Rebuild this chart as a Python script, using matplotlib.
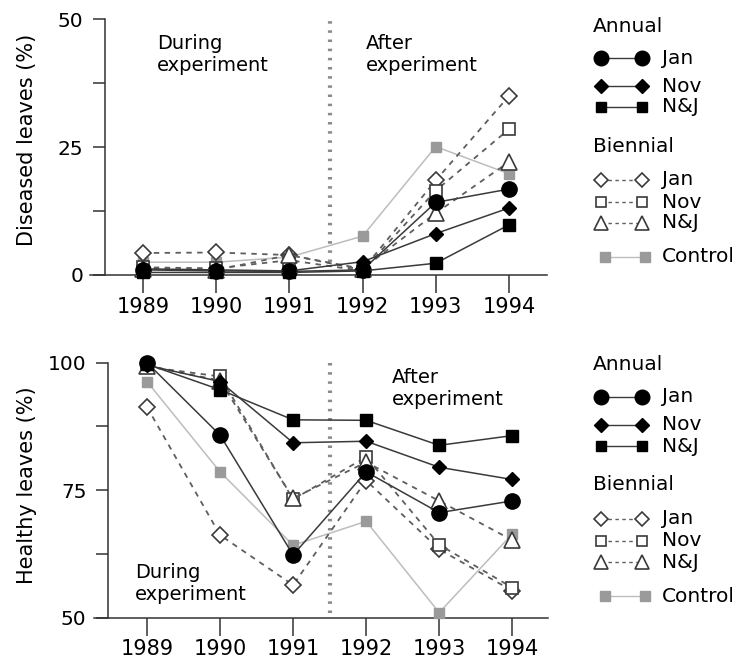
import matplotlib
matplotlib.use("Agg")
import matplotlib.pyplot as plt
from matplotlib.lines import Line2D

plt.rcParams['font.family'] = ['DejaVu Sans']

years = [1989, 1990, 1991, 1992, 1993, 1994]

# Diseased leaves (%)
dis_ann_jan = [1.0, 0.8, 0.7, 1.0, 14.2, 16.8]
dis_ann_nov = [1.2, 1.0, 0.8, 2.6, 8.1, 13.1]
dis_ann_nj = [0.5, 0.5, 0.5, 0.8, 2.3, 9.8]
dis_bi_jan = [4.3, 4.4, 3.9, 1.0, 18.5, 35.0]
dis_bi_nov = [1.5, 1.3, 2.9, 0.8, 16.5, 28.5]
dis_bi_nj = [1.2, 1.0, 3.9, 1.2, 12.1, 22.1]
dis_control = [2.5, 2.5, 3.5, 7.6, 25.1, 19.8]

# Healthy leaves (%)
hea_ann_jan = [100.0, 85.8, 62.3, 78.6, 70.6, 72.9]
hea_ann_nov = [99.5, 96.3, 84.3, 84.6, 79.5, 77.1]
hea_ann_nj = [99.7, 94.7, 88.8, 88.7, 83.8, 85.7]
hea_bi_jan = [91.3, 66.2, 56.4, 76.9, 63.4, 55.3]
hea_bi_nov = [99.2, 97.3, 73.2, 81.5, 64.3, 55.9]
hea_bi_nj = [99.4, 96.5, 73.4, 80.5, 72.9, 65.2]
hea_control = [96.3, 78.6, 64.2, 68.9, 51.0, 66.4]

W, H = 738, 662
fig = plt.figure(figsize=(W / 100, H / 100), dpi=100)


def px_axes(left, right, top, bottom):
    return fig.add_axes([left / W, 1 - bottom / H, (right - left) / W, (bottom - top) / H])


AX_COL = '#333333'
ANN_LINE = '#3a3a3a'
BI_LINE = '#5e5e5e'
BI_EDGE = '#3a3a3a'
CTRL_M = '#9a9a9a'
CTRL_L = '#bdbdbd'
DASH = (0, (3, 3))

styles = {
    'control': dict(marker='s', ms=7, mfc=CTRL_M, mec=CTRL_M, color=CTRL_L, lw=1.1, ls='-'),
    'bi_jan': dict(marker='D', ms=8.5, mfc='white', mec=BI_EDGE, mew=1.2, color=BI_LINE, lw=1.3, ls=DASH),
    'bi_nov': dict(marker='s', ms=8.5, mfc='white', mec=BI_EDGE, mew=1.2, color=BI_LINE, lw=1.3, ls=DASH),
    'bi_nj': dict(marker='^', ms=11.5, mfc='white', mec=BI_EDGE, mew=1.2, color=BI_LINE, lw=1.3, ls=DASH),
    'ann_jan': dict(marker='o', ms=11, mfc='black', mec='black', color=ANN_LINE, lw=1.1, ls='-'),
    'ann_nov': dict(marker='D', ms=7.5, mfc='black', mec='black', color=ANN_LINE, lw=1.1, ls='-'),
    'ann_nj': dict(marker='s', ms=8.5, mfc='black', mec='black', color=ANN_LINE, lw=1.1, ls='-'),
}


def style_axes(ax, xlim, spine_x, ylim, major, minor, xpad):
    ax.set_xlim(*xlim)
    ax.set_ylim(*ylim)
    for s in ['top', 'right']:
        ax.spines[s].set_visible(False)
    ax.spines['left'].set_position(('data', spine_x))
    for s in ['left', 'bottom']:
        ax.spines[s].set_color(AX_COL)
        ax.spines[s].set_linewidth(1.1)
    ax.set_xticks(years)
    ax.set_xticklabels([str(y) for y in years])
    ax.set_yticks(major)
    ax.set_yticklabels([str(v) for v in major])
    ax.set_yticks(minor, minor=True)
    ax.tick_params(axis='x', direction='out', length=13, width=1.1, color=AX_COL,
                   labelsize=15, pad=xpad)
    ax.tick_params(axis='y', which='both', direction='out', length=8.5, width=1.1,
                   color=AX_COL, labelsize=14.5, pad=7)
    ax.patch.set_alpha(0)


def plot_series(ax, data):
    order = ['control', 'bi_jan', 'bi_nov', 'bi_nj', 'ann_jan', 'ann_nov', 'ann_nj']
    for i, key in enumerate(order):
        ax.plot(years, data[key], clip_on=False, zorder=3 + i, **styles[key])


def legend(y0):
    def tx(x):
        return x / W

    def ty(y):
        return 1 - (y + y0) / H

    fig.text(tx(593), ty(26), 'Annual', fontsize=14.5, va='center', ha='left')
    fig.text(tx(593), ty(146), 'Biennial', fontsize=14.5, va='center', ha='left')
    rows = [
        ('ann_jan', 'Jan', 58, 10.5, 601, 642),
        ('ann_nov', 'Nov', 86, 7, 601, 642),
        ('ann_nj', 'N&J', 107, 7, 601, 642),
        ('bi_jan', 'Jan', 180, 7.5, 601, 642),
        ('bi_nov', 'Nov', 202, 7, 601, 642),
        ('bi_nj', 'N&J', 223, 9.5, 601, 642),
        ('control', 'Control', 257, 6.5, 605, 645),
    ]
    for key, lab, y, ms, xa, xb in rows:
        st = dict(styles[key])
        st['ms'] = ms
        st['lw'] = 1.0
        if key.startswith('bi'):
            st['ls'] = (0, (2.5, 2.5))
        ln = Line2D([tx(xa), tx(xb)], [ty(y), ty(y)], transform=fig.transFigure, **st)
        fig.add_artist(ln)
        fig.text(tx(662), ty(y), lab, fontsize=14.5, va='center', ha='left')


# ---- Top panel: diseased leaves
ax1 = px_axes(90.3, 547, 19.3, 275)
style_axes(ax1, (1988.28, 1994.52), 1988.48, (0, 50), [0, 25, 50], [12.5, 37.5], 3)
ax1.plot([1991.55, 1991.55], [2.5, 50], color='#8a8a8a', lw=3, ls=(0, (0.6, 1.6)),
         dash_capstyle='butt', zorder=2)
plot_series(ax1, dict(control=dis_control, bi_jan=dis_bi_jan, bi_nov=dis_bi_nov,
                      bi_nj=dis_bi_nj, ann_jan=dis_ann_jan, ann_nov=dis_ann_nov,
                      ann_nj=dis_ann_nj))
fig.text(157 / W, 1 - 34 / H, 'During\nexperiment', fontsize=14, va='top', ha='left',
         linespacing=1.2)
fig.text(366 / W, 1 - 34 / H, 'After\nexperiment', fontsize=14, va='top', ha='left',
         linespacing=1.2)
fig.text(27 / W, 1 - 140 / H, 'Diseased leaves (%)', fontsize=15, rotation=90,
         va='center', ha='center')
legend(0)

# ---- Bottom panel: healthy leaves
ax2 = px_axes(93.7, 548, 362.7, 617.7)
style_axes(ax2, (1988.27, 1994.49), 1988.466, (50, 100), [50, 75, 100], [62.5, 87.5], 2.5)
ax2.plot([1991.5, 1991.5], [51, 100], color='#8a8a8a', lw=3, ls=(0, (0.6, 1.6)),
         dash_capstyle='butt', zorder=2)
plot_series(ax2, dict(control=hea_control, bi_jan=hea_bi_jan, bi_nov=hea_bi_nov,
                      bi_nj=hea_bi_nj, ann_jan=hea_ann_jan, ann_nov=hea_ann_nov,
                      ann_nj=hea_ann_nj))
fig.text(392 / W, 1 - 368 / H, 'After\nexperiment', fontsize=14, va='top', ha='left',
         linespacing=1.2)
fig.text(135 / W, 1 - 563 / H, 'During\nexperiment', fontsize=14, va='top', ha='left',
         linespacing=1.2)
fig.text(27 / W, 1 - 485 / H, 'Healthy leaves (%)', fontsize=15, rotation=90,
         va='center', ha='center')
legend(339)

fig.savefig('out.png', dpi=100)
